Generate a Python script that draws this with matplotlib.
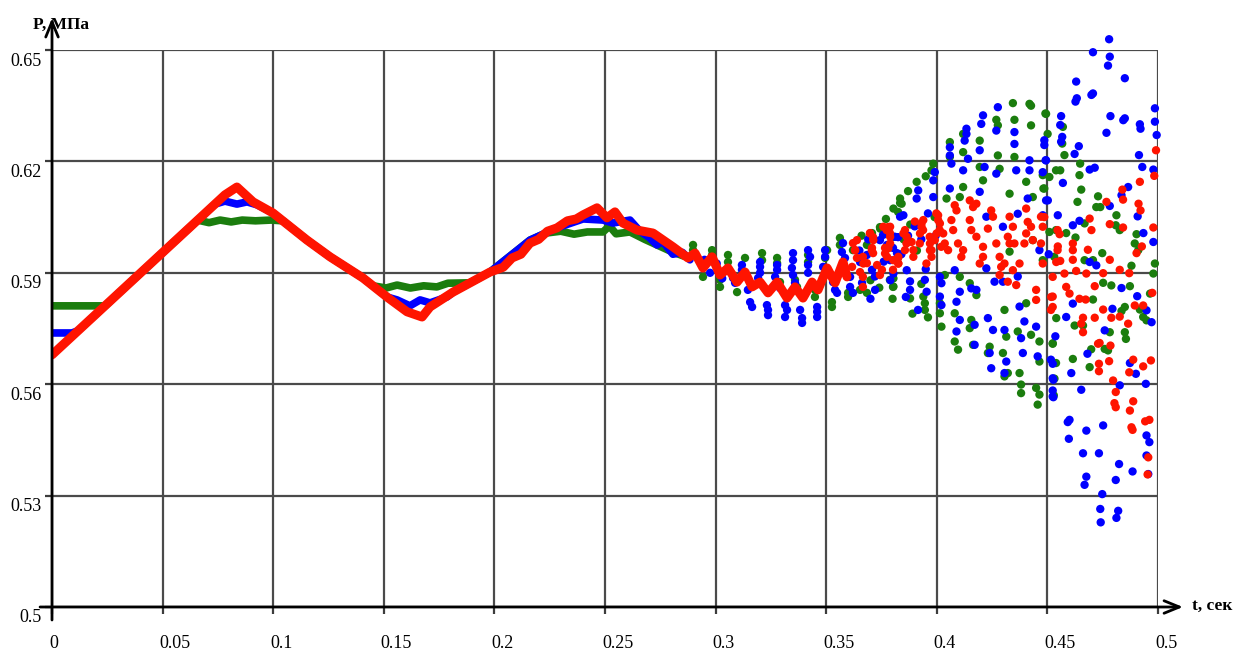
import numpy as np
import matplotlib.pyplot as plt
from matplotlib.transforms import offset_copy

# pressure traces P(t) for three cases: smooth part drawn as thick lines, unstable part as samples
red_line = [(0.0000, 0.5679), (0.0782, 0.6110), (0.0836, 0.6131), (0.0909, 0.6091), (0.0999, 0.6061),
            (0.1153, 0.5988), (0.1257, 0.5943), (0.1406, 0.5886), (0.1514, 0.5835), (0.1605, 0.5795),
            (0.1673, 0.5781), (0.1709, 0.5808), (0.1813, 0.5848), (0.1980, 0.5902), (0.2040, 0.5915),
            (0.2080, 0.5940), (0.2120, 0.5950), (0.2161, 0.5980), (0.2200, 0.5990), (0.2240, 0.6012),
            (0.2283, 0.6021), (0.2330, 0.6040), (0.2370, 0.6045), (0.2401, 0.6056), (0.2464, 0.6075),
            (0.2509, 0.6048), (0.2545, 0.6064), (0.2581, 0.6034), (0.2645, 0.6015), (0.2717, 0.6007),
            (0.2807, 0.5970), (0.2875, 0.5940), (0.2907, 0.5953), (0.2943, 0.5913), (0.2984, 0.5943),
            (0.3020, 0.5894), (0.3056, 0.5913), (0.3097, 0.5875), (0.3133, 0.5902), (0.3165, 0.5862),
            (0.3201, 0.5875), (0.3237, 0.5846), (0.3278, 0.5875), (0.3323, 0.5832), (0.3359, 0.5862),
            (0.3395, 0.5832), (0.3436, 0.5875), (0.3463, 0.5854), (0.3504, 0.5913), (0.3540, 0.5873),
            (0.3576, 0.5929), (0.3594, 0.5889)]

blue_line = [(0.0000, 0.5738), (0.0090, 0.5738), (0.0118, 0.5744), (0.0737, 0.6085), (0.0782, 0.6093),
             (0.0836, 0.6085), (0.0882, 0.6091), (0.0927, 0.6083), (0.0954, 0.6075), (0.0999, 0.6061),
             (0.1153, 0.5988), (0.1257, 0.5943), (0.1406, 0.5886), (0.1514, 0.5835), (0.1560, 0.5827),
             (0.1618, 0.5811), (0.1664, 0.5827), (0.1709, 0.5819), (0.1786, 0.5835), (0.1813, 0.5848),
             (0.1980, 0.5902), (0.2161, 0.5988), (0.2283, 0.6021), (0.2401, 0.6045), (0.2491, 0.6042),
             (0.2536, 0.6034), (0.2613, 0.6042), (0.2658, 0.6012), (0.2700, 0.5995), (0.2735, 0.5975),
             (0.2760, 0.5985), (0.2807, 0.5950), (0.2850, 0.5955), (0.2884, 0.5935)]

green_line = [(0.0000, 0.5811), (0.0240, 0.5811), (0.0658, 0.6042), (0.0710, 0.6035), (0.0760, 0.6042),
              (0.0810, 0.6037), (0.0860, 0.6042), (0.0920, 0.6040), (0.0990, 0.6042), (0.1044, 0.6040),
              (0.1153, 0.5988), (0.1257, 0.5943), (0.1406, 0.5886), (0.1451, 0.5865), (0.1510, 0.5859),
              (0.1560, 0.5867), (0.1620, 0.5859), (0.1680, 0.5865), (0.1740, 0.5862), (0.1790, 0.5872),
              (0.1890, 0.5873), (0.1980, 0.5902), (0.2161, 0.5988), (0.2233, 0.6007), (0.2300, 0.6012),
              (0.2360, 0.6004), (0.2420, 0.6010), (0.2491, 0.6010), (0.2520, 0.6026), (0.2550, 0.6005),
              (0.2613, 0.6010), (0.2680, 0.5990), (0.2735, 0.5975), (0.2790, 0.5960), (0.2856, 0.5945)]

blue_dots = [
    (0.2950, 0.5935), (0.2975, 0.5900), (0.3005, 0.5925), (0.3030, 0.5885), (0.3050, 0.5905),
    (0.3079, 0.5886), (0.3088, 0.5873), (0.3119, 0.5921), (0.3119, 0.5908), (0.3124, 0.5894),
    (0.3146, 0.5854), (0.3156, 0.5821), (0.3165, 0.5808), (0.3201, 0.5929), (0.3201, 0.5916),
    (0.3201, 0.5900), (0.3192, 0.5886), (0.3232, 0.5813), (0.3237, 0.5800), (0.3237, 0.5786),
    (0.3278, 0.5921), (0.3278, 0.5908), (0.3269, 0.5889), (0.3291, 0.5859), (0.3314, 0.5813),
    (0.3323, 0.5800), (0.3314, 0.5781), (0.3350, 0.5953), (0.3350, 0.5934), (0.3345, 0.5913),
    (0.3350, 0.5894), (0.3359, 0.5873), (0.3382, 0.5800), (0.3391, 0.5778), (0.3391, 0.5765),
    (0.3418, 0.5961), (0.3427, 0.5943), (0.3418, 0.5921), (0.3418, 0.5900), (0.3459, 0.5808),
    (0.3459, 0.5795), (0.3459, 0.5781), (0.3495, 0.5961), (0.3495, 0.5943), (0.3486, 0.5916),
    (0.3531, 0.5875), (0.3540, 0.5854), (0.3549, 0.5846), (0.3576, 0.5980), (0.3571, 0.5956),
    (0.3585, 0.5940), (0.3608, 0.5889), (0.3608, 0.5862), (0.3743, 0.5988), (0.3757, 0.6002),
    (0.3775, 0.5975), (0.3802, 0.5967), (0.3820, 0.5953), (0.3825, 0.5996), (0.3653, 0.5929),
    (0.3684, 0.5948), (0.3662, 0.5873), (0.3707, 0.5908), (0.3721, 0.5854), (0.3621, 0.5846),
    (0.3650, 0.5960), (0.3690, 0.5990), (0.3720, 0.5890), (0.3760, 0.5930), (0.3790, 0.5880),
    (0.3840, 0.5950), (0.3870, 0.6000), (0.3900, 0.6025), (0.3930, 0.5990), (0.3950, 0.5910),
    (0.3860, 0.5835), (0.3915, 0.5800), (0.3960, 0.6060), (0.3995, 0.6000), (0.3700, 0.5830),
    (0.4276, 0.6346), (0.4209, 0.6324), (0.4201, 0.6301), (0.4134, 0.6288), (0.4134, 0.6274),
    (0.4269, 0.6283), (0.4351, 0.6279), (0.4351, 0.6247), (0.4126, 0.6256), (0.4059, 0.6238),
    (0.4059, 0.6216), (0.4194, 0.6230), (0.4141, 0.6207), (0.4066, 0.6194), (0.4119, 0.6176),
    (0.4216, 0.6185), (0.4269, 0.6167), (0.4359, 0.6176), (0.4419, 0.6203), (0.4419, 0.6176),
    (0.4494, 0.6203), (0.4479, 0.6171), (0.3991, 0.6171), (0.3984, 0.6149), (0.3916, 0.6122),
    (0.3909, 0.6100), (0.3984, 0.6104), (0.4059, 0.6127), (0.4194, 0.6118), (0.4366, 0.6059),
    (0.4411, 0.6100), (0.4494, 0.6095), (0.4479, 0.6055), (0.3849, 0.6055), (0.3834, 0.6051),
    (0.3811, 0.5997), (0.3774, 0.5970), (0.3789, 0.5934), (0.3804, 0.5898), (0.3864, 0.5907),
    (0.3879, 0.5877), (0.3879, 0.5854), (0.3946, 0.5881), (0.3954, 0.5849), (0.4014, 0.5889),
    (0.4021, 0.5872), (0.4014, 0.5836), (0.4021, 0.5813), (0.4089, 0.5822), (0.4104, 0.5849),
    (0.4156, 0.5858), (0.4179, 0.5854), (0.4104, 0.5773), (0.4089, 0.5742), (0.4171, 0.5760),
    (0.4171, 0.5706), (0.4231, 0.5778), (0.4254, 0.5746), (0.4306, 0.5746), (0.4374, 0.5809),
    (0.4396, 0.5769), (0.4449, 0.5755), (0.4381, 0.5724), (0.4389, 0.5684), (0.4456, 0.5675),
    (0.4516, 0.5666), (0.4239, 0.5684), (0.4246, 0.5643), (0.4314, 0.5661), (0.4306, 0.5630),
    (0.4524, 0.5616), (0.4524, 0.5567), (0.4366, 0.5890), (0.4299, 0.5876), (0.4261, 0.5876),
    (0.4224, 0.5912), (0.4081, 0.5907), (0.4224, 0.6051), (0.4299, 0.6024), (0.4464, 0.5961),
    (0.4779, 0.6529), (0.4706, 0.6494), (0.4782, 0.6482), (0.4774, 0.6458), (0.4850, 0.6424),
    (0.4630, 0.6415), (0.4633, 0.6370), (0.4627, 0.6361), (0.4706, 0.6383), (0.4699, 0.6379),
    (0.4785, 0.6322), (0.4767, 0.6277), (0.4850, 0.6316), (0.4843, 0.6311), (0.4918, 0.6300),
    (0.4921, 0.6288), (0.4986, 0.6343), (0.4986, 0.6307), (0.4994, 0.6271), (0.4562, 0.6322),
    (0.4558, 0.6298), (0.4567, 0.6266), (0.4562, 0.6253), (0.4486, 0.6257), (0.4486, 0.6244),
    (0.4492, 0.6203), (0.4642, 0.6241), (0.4623, 0.6220), (0.4691, 0.6178), (0.4714, 0.6183),
    (0.4570, 0.6142), (0.4914, 0.6217), (0.4929, 0.6185), (0.4979, 0.6178), (0.4865, 0.6131),
    (0.4835, 0.6109), (0.4908, 0.6052), (0.4979, 0.5983), (0.4934, 0.6007), (0.4782, 0.6080),
    (0.4645, 0.6040), (0.4615, 0.6028), (0.4502, 0.6095), (0.4547, 0.6055), (0.4506, 0.5950),
    (0.4691, 0.5929), (0.4721, 0.5920), (0.4835, 0.5859), (0.4906, 0.5837), (0.4948, 0.5799),
    (0.4971, 0.5767), (0.4794, 0.5803), (0.4759, 0.5745), (0.4615, 0.5817), (0.4585, 0.5781),
    (0.4536, 0.5729), (0.4681, 0.5682), (0.4608, 0.5630), (0.4524, 0.5655), (0.4527, 0.5612),
    (0.4524, 0.5583), (0.4527, 0.5565), (0.4653, 0.5585), (0.4827, 0.5597), (0.4945, 0.5601),
    (0.4873, 0.5657), (0.4900, 0.5628), (0.4592, 0.5498), (0.4600, 0.5504), (0.4597, 0.5453),
    (0.4676, 0.5475), (0.4752, 0.5489), (0.4661, 0.5414), (0.4733, 0.5414), (0.4824, 0.5385),
    (0.4885, 0.5365), (0.4948, 0.5462), (0.4961, 0.5444), (0.4948, 0.5408), (0.4956, 0.5358),
    (0.4676, 0.5351), (0.4668, 0.5329), (0.4809, 0.5342), (0.4748, 0.5304), (0.4739, 0.5264),
    (0.4741, 0.5228), (0.4820, 0.5259), (0.4812, 0.5240),
]

green_dots = [
    (0.2898, 0.5975), (0.2898, 0.5961), (0.2984, 0.5961), (0.2984, 0.5948), (0.2943, 0.5889),
    (0.3020, 0.5862), (0.3020, 0.5881), (0.3056, 0.5948), (0.3056, 0.5929), (0.3097, 0.5848),
    (0.3133, 0.5940), (0.3210, 0.5953), (0.3210, 0.5934), (0.3278, 0.5940), (0.3278, 0.5926),
    (0.3291, 0.5875), (0.3359, 0.5881), (0.3368, 0.5862), (0.3418, 0.5948), (0.3418, 0.5929),
    (0.3449, 0.5854), (0.3449, 0.5835), (0.3504, 0.5961), (0.3495, 0.5940), (0.3526, 0.5821),
    (0.3526, 0.5808), (0.3562, 0.5994), (0.3562, 0.5975), (0.3599, 0.5846), (0.3599, 0.5835),
    (0.3788, 0.5881), (0.3802, 0.5862), (0.3834, 0.6088), (0.3825, 0.6064), (0.3743, 0.6023),
    (0.3707, 0.6007), (0.3684, 0.5975), (0.3653, 0.5854), (0.3684, 0.5846), (0.3621, 0.5961),
    (0.3660, 0.6000), (0.3700, 0.5880), (0.3740, 0.5860), (0.3770, 0.6045), (0.3800, 0.5830),
    (0.3850, 0.5990), (0.3880, 0.6030), (0.3910, 0.5960), (0.3930, 0.5870), (0.3960, 0.5780),
    (0.3990, 0.6050), (0.3890, 0.5790), (0.3870, 0.6120), (0.3950, 0.6160),
    (0.4344, 0.6357), (0.4419, 0.6355), (0.4426, 0.6350), (0.4494, 0.6328), (0.4269, 0.6312),
    (0.4351, 0.6312), (0.4276, 0.6297), (0.4194, 0.6256), (0.4426, 0.6297), (0.4501, 0.6274),
    (0.4119, 0.6274), (0.4059, 0.6252), (0.4059, 0.6212), (0.4119, 0.6225), (0.4194, 0.6185),
    (0.4351, 0.6212), (0.4276, 0.6216), (0.4284, 0.6180), (0.4209, 0.6149), (0.4119, 0.6131),
    (0.4044, 0.6100), (0.4104, 0.6104), (0.3984, 0.6194), (0.3976, 0.6176), (0.3909, 0.6145),
    (0.3834, 0.6100), (0.3841, 0.6086), (0.3804, 0.6073), (0.3804, 0.5997), (0.3744, 0.6019),
    (0.4486, 0.6127), (0.4329, 0.6113), (0.4404, 0.6145), (0.4434, 0.6104), (0.4434, 0.5988),
    (0.4509, 0.6158), (0.4539, 0.6176), (0.4539, 0.6015), (0.4531, 0.5943), (0.4479, 0.5934),
    (0.4329, 0.5957), (0.4149, 0.5872), (0.4179, 0.5840), (0.4104, 0.5889), (0.4036, 0.5894),
    (0.4014, 0.5818), (0.3946, 0.5818), (0.3946, 0.5800), (0.3939, 0.5836), (0.3879, 0.5831),
    (0.3804, 0.5863), (0.3804, 0.5885), (0.4014, 0.5791), (0.4021, 0.5755), (0.4081, 0.5791),
    (0.4156, 0.5773), (0.4149, 0.5751), (0.4081, 0.5715), (0.4096, 0.5693), (0.4164, 0.5706),
    (0.4239, 0.5701), (0.4231, 0.5684), (0.4299, 0.5684), (0.4314, 0.5728), (0.4306, 0.5800),
    (0.4366, 0.5742), (0.4404, 0.5818), (0.4426, 0.5733), (0.4464, 0.5715), (0.4464, 0.5661),
    (0.4524, 0.5710), (0.4539, 0.5657), (0.4321, 0.5630), (0.4306, 0.5621), (0.4374, 0.5630),
    (0.4381, 0.5599), (0.4381, 0.5576), (0.4449, 0.5590), (0.4464, 0.5572), (0.4456, 0.5545),
    (0.4491, 0.6329), (0.4570, 0.6293), (0.4567, 0.6248), (0.4577, 0.6217), (0.4648, 0.6194),
    (0.4645, 0.6163), (0.4653, 0.6124), (0.4558, 0.6176), (0.4636, 0.6091), (0.4479, 0.6163),
    (0.4482, 0.6127), (0.4729, 0.6106), (0.4721, 0.6077), (0.4739, 0.6077), (0.4812, 0.6055),
    (0.4809, 0.6028), (0.4827, 0.6015), (0.4668, 0.6033), (0.4627, 0.5995), (0.4585, 0.6007),
    (0.4509, 0.6010), (0.4748, 0.5953), (0.4668, 0.5934), (0.4706, 0.5934), (0.4880, 0.5919),
    (0.4903, 0.6004), (0.4895, 0.5979), (0.4911, 0.5961), (0.4986, 0.5925), (0.4979, 0.5898),
    (0.4752, 0.5873), (0.4789, 0.5866), (0.4873, 0.5864), (0.4835, 0.5797), (0.4850, 0.5808),
    (0.4918, 0.5801), (0.4933, 0.5781), (0.4948, 0.5772), (0.4964, 0.5844), (0.4706, 0.5828),
    (0.4623, 0.5758), (0.4540, 0.5778), (0.4661, 0.5758), (0.4524, 0.5709), (0.4615, 0.5668),
    (0.4532, 0.5615), (0.4698, 0.5694), (0.4691, 0.5646), (0.4759, 0.5695), (0.4774, 0.5691),
    (0.4850, 0.5740), (0.4855, 0.5722), (0.4782, 0.5740), (0.4529, 0.5570),
]

red_dots = [
    (0.3617, 0.5916), (0.3639, 0.5940), (0.3653, 0.5902), (0.3666, 0.5862), (0.3707, 0.5967),
    (0.3712, 0.5953), (0.3730, 0.5921), (0.3743, 0.5894), (0.3779, 0.6023), (0.3788, 0.6007),
    (0.3766, 0.5967), (0.3775, 0.5943), (0.3802, 0.5908), (0.3825, 0.5940), (0.3621, 0.5980),
    (0.3630, 0.5961), (0.3666, 0.5943), (0.3684, 0.5926), (0.3666, 0.5889), (0.3698, 0.6007),
    (0.3712, 0.5996), (0.3752, 0.5908),
    (0.3639, 0.5988), (0.3631, 0.5961), (0.3668, 0.5925), (0.3698, 0.6006), (0.3713, 0.5988),
    (0.3706, 0.5961), (0.3758, 0.6024), (0.3773, 0.6015), (0.3789, 0.5979), (0.3766, 0.5952),
    (0.3803, 0.5934), (0.3826, 0.5925), (0.3849, 0.6006), (0.3863, 0.5979), (0.3856, 0.5961),
    (0.3901, 0.6038), (0.3931, 0.6033), (0.3938, 0.6015), (0.3923, 0.5979), (0.3968, 0.5997),
    (0.3976, 0.5961), (0.3953, 0.5925), (0.3998, 0.6060), (0.4006, 0.6042), (0.4013, 0.6015),
    (0.4020, 0.5970),
    (0.3789, 0.6024), (0.3789, 0.5997), (0.3781, 0.5966), (0.3826, 0.5943), (0.3826, 0.5925),
    (0.3856, 0.6015), (0.3864, 0.5997), (0.3886, 0.5983), (0.3894, 0.5961), (0.3894, 0.5943),
    (0.3939, 0.6042), (0.3931, 0.6024), (0.3924, 0.6006), (0.3969, 0.5979), (0.3969, 0.5961),
    (0.3976, 0.5943), (0.4006, 0.6055), (0.4014, 0.6033), (0.3999, 0.6006), (0.3991, 0.5988),
    (0.4029, 0.6006), (0.4036, 0.5979), (0.4051, 0.5961), (0.4066, 0.6042), (0.4081, 0.6082),
    (0.4089, 0.6068), (0.4074, 0.6015), (0.4096, 0.5979), (0.4119, 0.5961), (0.4111, 0.5943),
    (0.4149, 0.6095), (0.4164, 0.6077), (0.4179, 0.6086), (0.4149, 0.6042), (0.4156, 0.6015),
    (0.4179, 0.5997), (0.4209, 0.5970), (0.4209, 0.5943), (0.4194, 0.5925), (0.4246, 0.6068),
    (0.4254, 0.6051), (0.4231, 0.6019), (0.4269, 0.5979), (0.4284, 0.5943), (0.4291, 0.5916),
    (0.4306, 0.5925), (0.4321, 0.5997), (0.4329, 0.6051), (0.4344, 0.6024), (0.4329, 0.5979),
    (0.4351, 0.5979), (0.4374, 0.5925), (0.4344, 0.5907), (0.4404, 0.6073), (0.4411, 0.6037),
    (0.4404, 0.6006), (0.4396, 0.5979), (0.4426, 0.6024), (0.4434, 0.5988), (0.4471, 0.6051),
    (0.4479, 0.6024), (0.4471, 0.5979), (0.4479, 0.5925), (0.4449, 0.5854), (0.4449, 0.5827),
    (0.4524, 0.5889), (0.4524, 0.5836), (0.4516, 0.5800), (0.4546, 0.6015), (0.4546, 0.5961),
    (0.4321, 0.5876), (0.4284, 0.5894), (0.4359, 0.5867),
    (0.4991, 0.6230), (0.4983, 0.6161), (0.4918, 0.6145), (0.4839, 0.6124), (0.4842, 0.6097),
    (0.4767, 0.6091), (0.4912, 0.6086), (0.4921, 0.6068), (0.4979, 0.6022), (0.4842, 0.6022),
    (0.4782, 0.6031), (0.4691, 0.6046), (0.4699, 0.6015), (0.4555, 0.6004), (0.4547, 0.5971),
    (0.4615, 0.5979), (0.4615, 0.5961), (0.4558, 0.5932), (0.4615, 0.5935), (0.4683, 0.5962),
    (0.4782, 0.5935), (0.4927, 0.5971), (0.4903, 0.5953), (0.4486, 0.6050), (0.4540, 0.5929),
    (0.4577, 0.5898), (0.4630, 0.5905), (0.4676, 0.5898), (0.4752, 0.5899), (0.4827, 0.5908),
    (0.4870, 0.5899), (0.4714, 0.5864), (0.4585, 0.5862), (0.4600, 0.5844), (0.4517, 0.5835),
    (0.4524, 0.5808), (0.4645, 0.5830), (0.4673, 0.5828), (0.4752, 0.5801), (0.4789, 0.5779),
    (0.4827, 0.5782), (0.4895, 0.5812), (0.4933, 0.5812), (0.4974, 0.5846), (0.4661, 0.5779),
    (0.4653, 0.5763), (0.4661, 0.5740), (0.4714, 0.5779), (0.4729, 0.5709), (0.4736, 0.5711),
    (0.4785, 0.5704), (0.4865, 0.5763), (0.4779, 0.5662), (0.4888, 0.5666), (0.4870, 0.5632),
    (0.4933, 0.5648), (0.4968, 0.5664), (0.4733, 0.5655), (0.4733, 0.5635), (0.4797, 0.5610),
    (0.4809, 0.5579), (0.4803, 0.5549), (0.4809, 0.5538), (0.4888, 0.5554), (0.4873, 0.5529),
    (0.4880, 0.5484), (0.4885, 0.5477), (0.4942, 0.5500), (0.4961, 0.5504), (0.4956, 0.5403),
    (0.4953, 0.5357),
]

x_ticks = [0, 0.05, 0.1, 0.15, 0.2, 0.25, 0.3, 0.35, 0.4, 0.45, 0.5]
x_labels = ['0', '0.05', '0.1', '0.15', '0.2', '0.25', '0.3', '0.35', '0.4', '0.45', '0.5']
y_ticks = [0.5, 0.53, 0.56, 0.59, 0.62, 0.65]
y_labels = ['0.5', '0.53', '0.56', '0.59', '0.62', '0.65']

BLUE = '#0000ff'
GREEN = '#1b7d0e'
RED = '#ff1400'
SERIF = 'Liberation Serif'

fig = plt.figure(figsize=(12.36, 6.52), dpi=100)
ax = fig.add_axes([52 / 1236, 45 / 652, 1106 / 1236, 557 / 652])
ax.set_xlim(0, 0.5)
ax.set_ylim(0.5, 0.65)

for s in ax.spines.values():
    s.set_visible(False)
ax.set_xticks(x_ticks)
ax.set_yticks(y_ticks)
ax.set_xticklabels([])
ax.set_yticklabels([])
ax.tick_params(direction='out', length=5, width=1.6, color='#3c3c3c')
ax.grid(True, color='#4a4a4a', lw=1.6)
ax.set_axisbelow(True)

# smooth sections
for pts, col, lw, z in [(green_line, GREEN, 5.5, 3), (blue_line, BLUE, 5.5, 4), (red_line, RED, 6.5, 6)]:
    t, p = np.array(pts).T
    ax.plot(t, p, color=col, lw=lw, solid_capstyle='round', solid_joinstyle='round', zorder=z)

# sampled sections
for pts, col, z in [(green_dots, GREEN, 3), (blue_dots, BLUE, 4), (red_dots, RED, 5)]:
    t, p = np.array(pts).T
    ax.scatter(t, p, s=36, color=col, edgecolors='none', clip_on=False, zorder=z)

# axes with arrowheads
arrow = dict(arrowstyle='->,head_length=1.1,head_width=0.45', color='black', lw=2.0, shrinkA=0, shrinkB=0)
ax.annotate('', xy=(0, 0.6586), xytext=(0, 0.4965), xycoords='data', arrowprops=arrow,
            annotation_clip=False, zorder=7)
ax.annotate('', xy=(0.5113, 0.5), xytext=(-0.0054, 0.5), xycoords='data', arrowprops=arrow,
            annotation_clip=False, zorder=7)

# tick labels below/left of grid lines
xtr = offset_copy(ax.get_xaxis_transform(), fig=fig, x=-3, y=-36, units='dots')
for v, lab in zip(x_ticks, x_labels):
    ax.text(v, 0, lab, transform=xtr, ha='left', va='center', fontsize=13, family=SERIF)
ytr = offset_copy(ax.get_yaxis_transform(), fig=fig, x=-10, y=-11, units='dots')
for v, lab in zip(y_ticks, y_labels):
    ax.text(0, v, lab, transform=ytr, ha='right', va='center', fontsize=13, family=SERIF)

fig.text(33 / 1236, 1 - 25 / 652, 'P, МПа', ha='left', va='center', fontsize=12.5,
         fontweight='bold', family=SERIF)
fig.text(1192 / 1236, 1 - 606 / 652, 't, сек', ha='left', va='center', fontsize=12.5,
         fontweight='bold', family=SERIF)

fig.savefig('out.png', dpi=100)
